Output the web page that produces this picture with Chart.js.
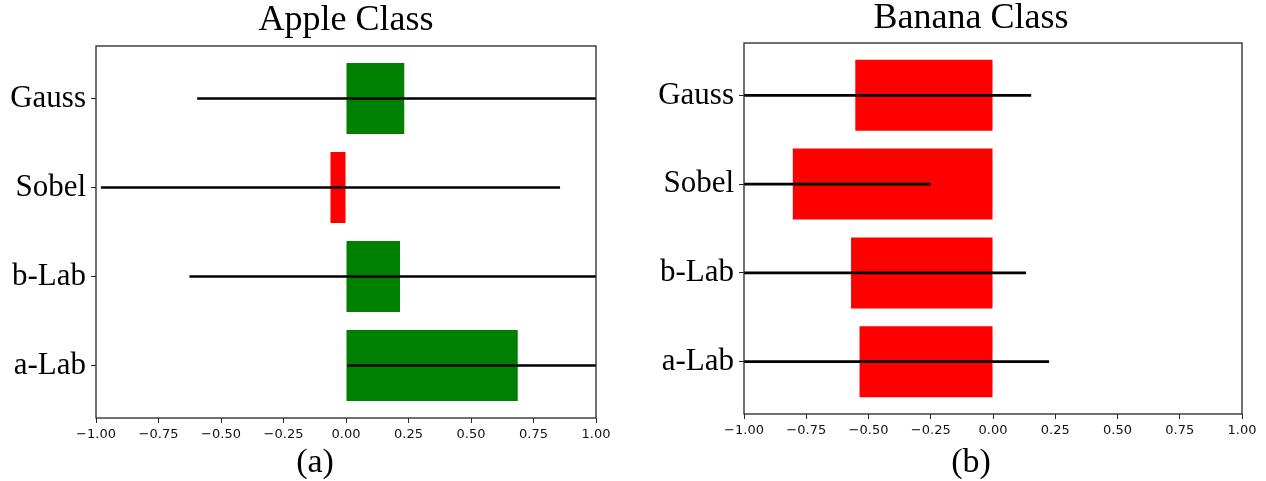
<!DOCTYPE html>
<html>
<head>
<meta charset="utf-8">
<script src="https://cdn.jsdelivr.net/npm/chart.js@4.4.0/dist/chart.umd.min.js"></script>
<style>
  html, body { margin: 0; padding: 0; background: #fff; overflow: hidden; }
  #wrap { position: relative; width: 1266px; height: 481px; overflow: hidden; }
  canvas { position: absolute; top: 0; }
  #apple-chart { left: 0px; }
  #banana-chart { left: 634px; }
</style>
</head>
<body>
<div id="wrap">
  <canvas id="apple-chart" width="630" height="481"></canvas>
  <canvas id="banana-chart" width="674" height="481"></canvas>
</div>
<script>
// categories from bottom to top
const categories = ['a-Lab', 'b-Lab', 'Sobel', 'Gauss'];
const xTicks = [-1, -0.75, -0.5, -0.25, 0, 0.25, 0.5, 0.75, 1];

// Apple class: mean and std per feature
const appleMean = [0.687, 0.216, -0.062, 0.233];
const appleStd = [0.68, 0.841, 0.917, 0.827];

// Banana class
const bananaMean = [-0.536, -0.57, -0.804, -0.553];
const bananaStd = [0.76, 0.701, 0.552, 0.705];

const chartColors = {
  pos: '#008000',
  neg: '#ff0000',
  err: '#000000',
  axis: '#262626'
};

const serif = '"Liberation Serif", "Times New Roman", serif';

const framePlugin = {
  id: 'frame',
  afterDatasetsDraw(chart) {
    const a = chart.chartArea;
    const ctx = chart.ctx;
    ctx.save();
    ctx.strokeStyle = chartColors.axis;
    ctx.lineWidth = 1.3;
    ctx.strokeRect(a.left, a.top, a.right - a.left, a.bottom - a.top);
    ctx.restore();
  }
};

function fmtTick(v) {
  return (v < 0 ? '\u2212' : '') + Math.abs(v).toFixed(2);
}

function buildChart(id, title, sub, means, stds, lay) {
  const bars = means.map((m, i) => ({ x: m, y: i }));
  const errs = means.map((m, i) => ({ x: [m - stds[i], m + stds[i]], y: i }));
  return new Chart(document.getElementById(id), {
    type: 'bar',
    data: {
      datasets: [
        {
          label: 'std',
          data: errs,
          backgroundColor: chartColors.err,
          barThickness: 2,
          grouped: false,
          order: 0
        },
        {
          label: 'mean',
          data: bars,
          backgroundColor: means.map(m => m >= 0 ? chartColors.pos : chartColors.neg),
          categoryPercentage: 0.8,
          barPercentage: 1.0,
          grouped: false,
          order: 1
        }
      ]
    },
    options: {
      indexAxis: 'y',
      responsive: false,
      animation: false,
      layout: { padding: 0 },
      plugins: {
        legend: { display: false },
        tooltip: { enabled: false },
        title: {
          display: true,
          text: title,
          fullSize: lay.titleFull,
          color: '#000',
          font: { family: serif, size: 36, weight: 'normal', lineHeight: 1 },
          padding: { top: lay.titleTop, bottom: lay.titleBottom }
        },
        subtitle: {
          display: true,
          position: 'bottom',
          text: sub,
          color: '#000',
          font: { family: serif, size: 34, weight: 'normal', lineHeight: 1 },
          padding: { top: 0, bottom: 1 }
        }
      },
      scales: {
        x: {
          type: 'linear',
          min: -1,
          max: 1,
          offset: false,
          afterBuildTicks: s => { s.ticks = xTicks.map(v => ({ value: v })); },
          afterFit: s => { s.height = lay.xHeight; },
          border: { display: false },
          grid: { drawOnChartArea: false, offset: false, tickLength: 5, color: chartColors.axis },
          ticks: {
            callback: v => fmtTick(v),
            maxRotation: 0,
            autoSkip: false,
            padding: 4,
            color: '#111',
            font: { family: '"DejaVu Sans"', size: 13 }
          }
        },
        y: {
          type: 'linear',
          min: -0.59,
          max: 3.59,
          offset: false,
          afterBuildTicks: s => { s.ticks = categories.map((c, i) => ({ value: i })); },
          afterFit: s => { s.width = lay.yWidth; },
          border: { display: false },
          grid: { drawOnChartArea: false, offset: false, tickLength: 5, color: chartColors.axis },
          ticks: {
            callback: v => categories[v],
            padding: 5,
            color: '#000',
            font: { family: serif, size: 31 }
          }
        },
        // empty right margin so the figure label centres like the original
        yRight: {
          type: 'linear',
          position: 'right',
          min: 0,
          max: 1,
          afterFit: s => { s.width = lay.rightWidth; },
          border: { display: false },
          grid: { display: false },
          ticks: { display: false }
        }
      }
    },
    plugins: [framePlugin]
  });
}

buildChart('apple-chart', 'Apple Class', '(a)', appleMean, appleStd,
  { yWidth: 96, xHeight: 28, rightWidth: 34, titleTop: 3, titleBottom: 7, titleFull: false });
buildChart('banana-chart', 'Banana Class', '(b)', bananaMean, bananaStd,
  { yWidth: 110, xHeight: 32, rightWidth: 66, titleTop: 1, titleBottom: 6, titleFull: true });
</script>
</body>
</html>
